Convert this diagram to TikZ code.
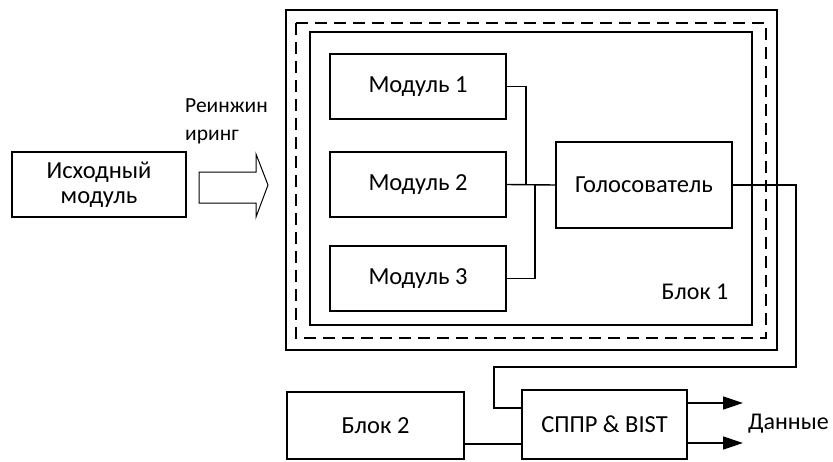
\documentclass[tikz,border=0pt]{standalone}
\usepackage{fontspec}
\setmainfont{Carlito}
\usetikzlibrary{arrows.meta}
\begin{document}
\begin{tikzpicture}[x=1pt,y=-1pt,
  every node/.style={font=\fontsize{24.5}{27}\selectfont},
  box/.style={draw,line width=1.6pt,rectangle,inner sep=0pt,align=center},
  wire/.style={line width=1.4pt},
  outarrow/.style={line width=1.4pt,-{Triangle[length=20pt,width=13pt]}},
  frame/.style={line width=1.6pt}]
\useasboundingbox (0,0) rectangle (833,461);
% frames
\draw[frame] (286,10) rectangle (777,350);
\draw[frame,dashed,dash pattern=on 12pt off 7pt] (296,23) rectangle (766,338);
\draw[frame] (310,32) rectangle (752,325);
% nodes
\node[box,minimum width=174pt,minimum height=65pt] (src) at (99,184.5) {Исходный\\[-2pt]модуль};
\node[box,minimum width=176pt,minimum height=65pt] (m1) at (418,86.5) {Модуль 1};
\node[box,minimum width=176pt,minimum height=65pt] (m2) at (418,184.5) {Модуль 2};
\node[box,minimum width=176pt,minimum height=65pt] (m3) at (418,278.5) {Модуль 3};
\node[box,minimum width=176pt,minimum height=86pt] (g) at (644,185) {Голосователь};
\node[box,minimum width=177pt,minimum height=67pt] (b2) at (375.5,425.5) {Блок 2};
\node[box,minimum width=165pt,minimum height=69pt] (s) at (604.5,424.5) {СППР \& BIST};
\node[anchor=center,font=\fontsize{24}{27}\selectfont] (b1) at (695,292) {Блок 1};
\node[anchor=west,align=left,inner sep=0pt,font=\fontsize{21.5}{26}\selectfont] (re) at (185,121) {Реинжин\\[2pt]иринг};
\node[anchor=west,inner sep=0pt,font=\fontsize{24}{27}\selectfont] (data) at (748,424) {Данные};
\coordinate (c1) at (526,0);
\coordinate (c3) at (535,0);
\coordinate (cw) at (796,0);
\coordinate (cy) at (0,367);
\coordinate (cl) at (494,0);
\coordinate (ae) at (743,0);
% hollow arrow
\draw[line width=1pt,fill=white] (199,172) -- (256,172) -- (256,154) -- (268,185) -- (256,217) -- (256,203) -- (199,203) -- cycle;
% wires
\draw[wire] (m1.east) -- (m1.east -| c1) -- (g.west -| c1);
\draw[wire] (m3.east) -- (m3.east -| c3) -- (g.west -| c3);
\draw[wire] (m2.east) -- (g.west);
\draw[wire] (g.east) -- (g.east -| cw) -- (cw |- cy) -- (cl |- cy) -- ([yshift=16.5pt]s.west -| cl) -- ([yshift=16.5pt]s.west);
\draw[wire] ([yshift=-18.5pt]b2.east) -- ([yshift=-18.5pt]b2.east -| s.west);
\draw[outarrow] ([yshift=21.5pt]s.east) -- ([yshift=21.5pt]s.east -| ae);
\draw[outarrow] ([yshift=-18.5pt]s.east) -- ([yshift=-18.5pt]s.east -| ae);
\end{tikzpicture}
\end{document}
